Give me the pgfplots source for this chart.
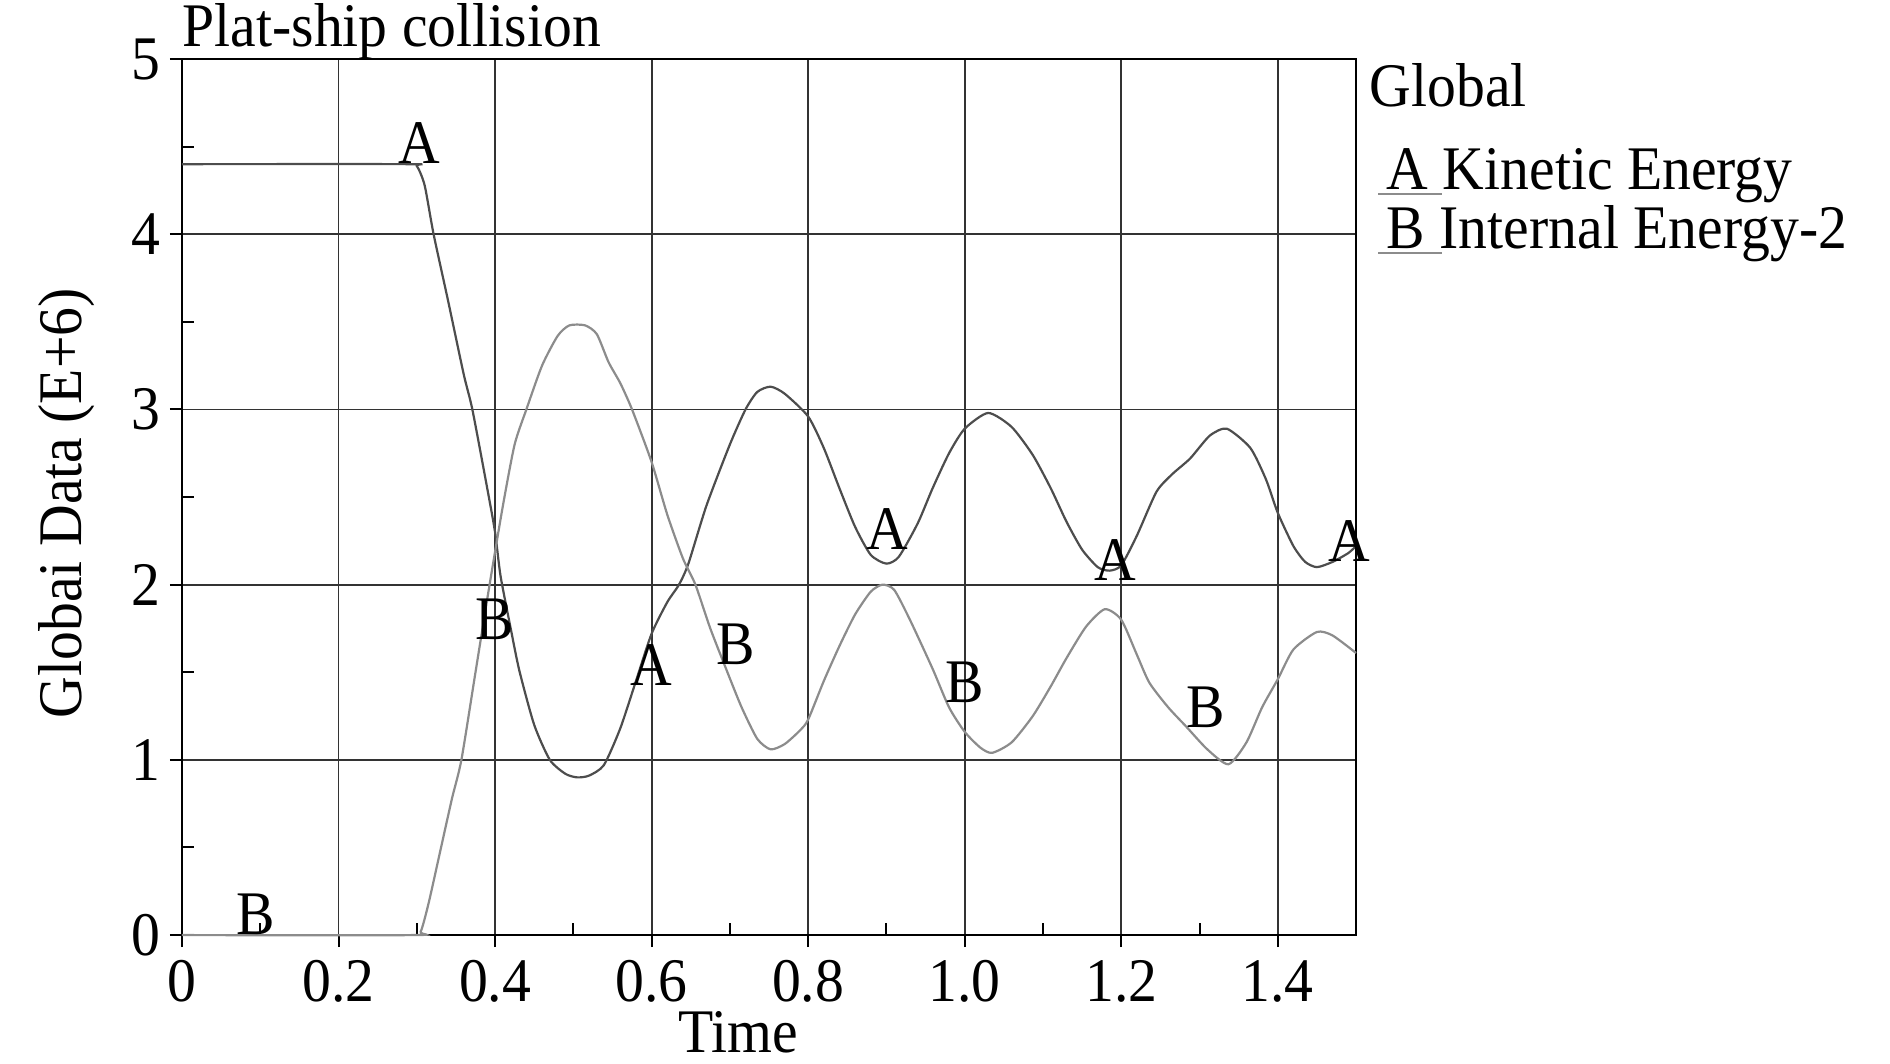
\documentclass[border=0pt]{standalone}
\usepackage{fontspec}
\setmainfont{Liberation Serif}[FakeStretch=0.93]
\usepackage{pgfplots}
\pgfplotsset{compat=1.18}
\usepackage{pgfplotstable}

\definecolor{kincol}{HTML}{4D4D4D}
\definecolor{intcol}{HTML}{8C8C8C}
\definecolor{gridcol}{HTML}{333333}

% A: kinetic energy
\pgfplotstableread{
t e
0 4.40
0.29 4.40
0.30 4.39
0.31 4.28
0.3215 4.00
0.34 3.62
0.36 3.20
0.371 3.00
0.39 2.55
0.40 2.30
0.407 2.05
0.42 1.75
0.431 1.51
0.45 1.20
0.47 1.00
0.49 0.92
0.505 0.90
0.52 0.91
0.539 0.97
0.56 1.18
0.58 1.45
0.60 1.72
0.62 1.90
0.635 2.00
0.647 2.12
0.67 2.45
0.70 2.80
0.72 3.00
0.735 3.10
0.752 3.13
0.77 3.09
0.80 2.96
0.82 2.78
0.84 2.55
0.86 2.33
0.88 2.17
0.90 2.12
0.916 2.16
0.94 2.35
0.959 2.55
0.98 2.75
1.00 2.89
1.03 2.98
1.06 2.90
1.087 2.74
1.11 2.55
1.13 2.36
1.15 2.20
1.17 2.10
1.185 2.08
1.20 2.11
1.22 2.28
1.245 2.53
1.265 2.63
1.288 2.72
1.313 2.85
1.335 2.89
1.365 2.78
1.385 2.60
1.40 2.41
1.42 2.22
1.435 2.13
1.45 2.10
1.47 2.13
1.49 2.18
1.50 2.22
}\kinetic

% B: internal energy
\pgfplotstableread{
t e
0 0
0.295 0
0.305 0.02
0.315 0.18
0.33 0.48
0.345 0.78
0.357 1.00
0.375 1.50
0.393 2.00
0.41 2.45
0.425 2.80
0.44 3.00
0.46 3.25
0.48 3.42
0.495 3.48
0.515 3.48
0.53 3.43
0.545 3.27
0.56 3.15
0.575 3.00
0.60 2.70
0.62 2.40
0.64 2.15
0.656 2.00
0.675 1.75
0.696 1.51
0.715 1.30
0.735 1.12
0.752 1.06
0.77 1.09
0.79 1.17
0.80 1.23
0.82 1.45
0.84 1.65
0.86 1.83
0.88 1.96
0.895 2.00
0.91 1.97
0.93 1.80
0.959 1.52
0.98 1.30
1.00 1.16
1.02 1.07
1.035 1.04
1.06 1.10
1.087 1.25
1.11 1.42
1.13 1.58
1.155 1.76
1.179 1.86
1.20 1.80
1.22 1.60
1.236 1.44
1.26 1.30
1.283 1.19
1.31 1.06
1.337 0.975
1.36 1.10
1.38 1.30
1.40 1.46
1.42 1.63
1.45 1.73
1.47 1.71
1.50 1.61
}\internal

\begin{document}
\fontsize{15.5}{18}\selectfont
\begin{tikzpicture}
\begin{axis}[
  scale only axis,
  width=293.5pt, height=219pt,
  xmin=0, xmax=1.5, ymin=0, ymax=5,
  xtick={0,0.2,0.4,0.6,0.8,1.0,1.2,1.4},
  xticklabels={0,0.2,0.4,0.6,0.8,1.0,1.2,1.4},
  ytick={0,1,2,3,4,5},
  yticklabels={0,1,2,3,4,5},
  minor x tick num=1,
  minor y tick num=1,
  tick pos=left,
  tick align=outside,
  major tick length=3pt,
  minor tick length=-3pt,
  tick style={black, line width=0.5pt},
  grid=major,
  major grid style={draw=gridcol, line width=0.45pt},
  axis line style={black, line width=0.6pt},
  xticklabel style={yshift=2pt},
  yticklabel style={xshift=3pt},
  xlabel={Time},
  xlabel style={at={(rel axis cs:0.474,-0.1345)}, anchor=base, inner sep=0pt},
  ylabel={Globai Data (E+6)},
  ylabel style={at={(rel axis cs:-0.0852,0.493)}, anchor=base, inner sep=0pt},
  clip=false,
]
\addplot[kincol, line width=0.55pt, smooth, tension=0.4] table[x=t, y=e] {\kinetic};
\addplot[intcol, line width=0.55pt, smooth, tension=0.4] table[x=t, y=e] {\internal};

% curve letters
\node[inner sep=0] at (axis cs:0.303,4.52) {A};
\node[inner sep=0] at (axis cs:0.094,0.12) {B};
\node[inner sep=0] at (axis cs:0.400,1.80) {B};
\node[inner sep=0] at (axis cs:0.600,1.54) {A};
\node[inner sep=0] at (axis cs:0.708,1.66) {B};
\node[inner sep=0] at (axis cs:0.901,2.32) {A};
\node[inner sep=0] at (axis cs:1.000,1.44) {B};
\node[inner sep=0] at (axis cs:1.192,2.14) {A};
\node[inner sep=0] at (axis cs:1.308,1.30) {B};
\node[inner sep=0] at (axis cs:1.491,2.25) {A};

% title
\node[anchor=base west, inner sep=0] at (rel axis cs:0,1.0148) {Plat-ship collision};

% legend
\node[anchor=base west, inner sep=0] at (rel axis cs:1.0111,0.9463) {Global};
\node[anchor=base west, inner sep=0] at (rel axis cs:1.0256,0.8516) {A Kinetic Energy};
\node[anchor=base west, inner sep=0] at (rel axis cs:1.0256,0.7842) {B Internal Energy-2};
\draw[intcol, line width=0.5pt] (rel axis cs:1.0187,0.846) -- (rel axis cs:1.0733,0.846);
\draw[intcol, line width=0.5pt] (rel axis cs:1.0187,0.779) -- (rel axis cs:1.0733,0.779);

% page frame
\path (rel axis cs:-0.155,-0.1461) rectangle (rel axis cs:1.4548,1.0674);
\end{axis}
\end{tikzpicture}
\end{document}
